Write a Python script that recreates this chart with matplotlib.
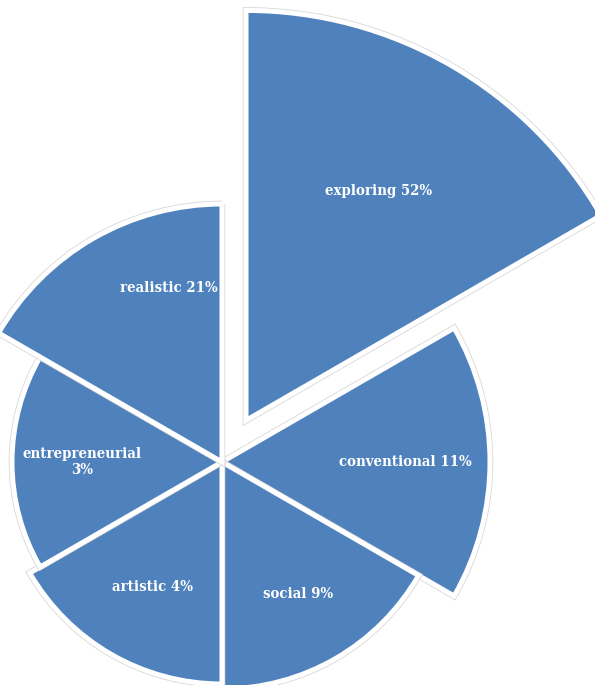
"""
Career interest profile - polar area style chart
Six equal-angle slices, radius per slice, largest slice pulled out
"""

import matplotlib.pyplot as plt
from matplotlib.patches import Wedge
import numpy as np

# Data (clockwise from 12 o'clock)
categories = ["exploring", "conventional", "social", "artistic", "entrepreneurial", "realistic"]
percents = [52, 11, 9, 4, 3, 21]
# slice radius (pixels)
radii = [410, 268, 227, 222, 210, 258]

# Layout / style
FIG_W, FIG_H = 595, 685
CENTER = (222, FIG_H - 462)
EXPLODE = [48, 0, 0, 0, 0, 0]
LABEL_DIST = [265, 183, 152, 143, 140, 182]
LABEL_ANGLE = [60, 0, -60, -119, 180, 107]
BLUE = "#4F81BD"
PX = 72 / 100  # points per pixel at dpi 100

fig = plt.figure(figsize=(FIG_W / 100, FIG_H / 100), dpi=100)
ax = fig.add_axes([0, 0, 1, 1])
ax.set_xlim(0, FIG_W)
ax.set_ylim(0, FIG_H)
ax.set_aspect("equal")
ax.axis("off")

n = len(categories)
step = 360 / n
for i, (cat, pct, r) in enumerate(zip(categories, percents, radii)):
    # clockwise from the top
    t2 = 90 - i * step
    t1 = t2 - step
    mid = np.radians((t1 + t2) / 2)
    cx = CENTER[0] + EXPLODE[i] * np.cos(mid)
    cy = CENTER[1] + EXPLODE[i] * np.sin(mid)

    # thin grey outline under the white border
    ax.add_patch(Wedge((cx, cy), r, t1, t2, facecolor="none",
                       edgecolor="#d4d4d4", linewidth=6.5 * PX, joinstyle="miter"))
    ax.add_patch(Wedge((cx, cy), r, t1, t2, facecolor=BLUE,
                       edgecolor="white", linewidth=5 * PX, joinstyle="miter"))

    la = np.radians(LABEL_ANGLE[i])
    lx = cx + LABEL_DIST[i] * np.cos(la)
    ly = cy + LABEL_DIST[i] * np.sin(la)
    if cat == "entrepreneurial":
        label = f"{cat}\n{pct}%"
    else:
        label = f"{cat} {pct}%"
    ax.text(lx, ly, label, color="white", fontsize=10.7, fontweight="bold",
            family="DejaVu Serif", fontstretch="condensed",
            ha="center", va="center", linespacing=1.1)

fig.savefig("out.png", dpi=100)
